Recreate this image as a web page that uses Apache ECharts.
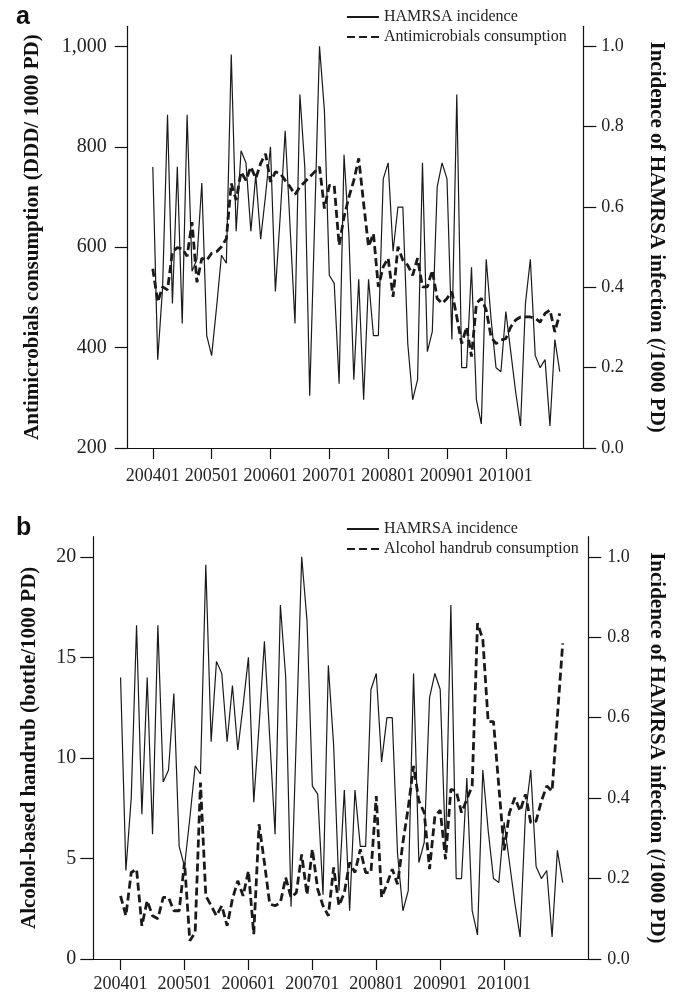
<!DOCTYPE html>
<html>
<head>
<meta charset="utf-8">
<script src="https://cdn.jsdelivr.net/npm/echarts@6/dist/echarts.min.js"></script>
<style>html,body{margin:0;padding:0;background:#fff;}#c{width:679px;height:1002px;}</style>
</head>
<body>
<div id="c"></div>
<script>
// Monthly categories 200401..201012
const months = [];
for (let y = 2004; y <= 2010; y++) for (let m = 1; m <= 12; m++) months.push('' + y + (m < 10 ? '0' : '') + m);
const tickLabels = ['200401','200501','200601','200701','200801','200901','201001'];
const leftTicksA = [200, 400, 600, 800, 1000];
const leftTicksB = [0, 5, 10, 15, 20];
const rightTicks = [0, 0.2, 0.4, 0.6, 0.8, 1.0];

// HAMRSA incidence (/1000 PD)
const hamrsa = [
  0.70,0.22,0.40,0.83,0.36,0.70,0.31,0.83,0.44,0.47,0.66,0.28,
  0.23,0.35,0.48,0.46,0.98,0.54,0.74,0.71,0.54,0.68,0.52,0.63,
  0.75,0.39,0.58,0.79,0.55,0.31,0.88,0.70,0.13,0.56,1.00,0.84,
  0.43,0.41,0.16,0.73,0.53,0.17,0.42,0.12,0.42,0.28,0.28,0.67,
  0.71,0.49,0.60,0.60,0.26,0.12,0.17,0.71,0.24,0.29,0.65,0.71,
  0.67,0.27,0.88,0.20,0.20,0.45,0.12,0.06,0.47,0.32,0.20,0.19,
  0.34,0.24,0.14,0.055,0.36,0.47,0.23,0.20,0.22,0.055,0.27,0.19
];
// Antimicrobials consumption (DDD/1000 PD)
const antimicrobials = [
  557,491,521,515,591,599,597,582,650,530,578,574,
  588,591,601,617,727,694,750,733,760,737,767,786,
  730,750,747,733,720,705,720,730,740,750,760,677,
  723,723,604,660,700,733,777,687,601,627,521,561,
  578,501,601,574,564,544,578,521,521,554,498,488,
  498,511,461,408,441,382,488,498,475,421,408,415,
  418,441,455,461,461,461,458,451,468,475,431,468
];
// Alcohol-based handrub consumption (bottle/1000 PD)
const alcohol = [
  3.14,2.15,4.30,4.47,1.65,2.90,2.15,2.00,3.06,3.06,2.40,2.40,
  4.80,0.91,1.32,8.77,3.14,2.65,2.15,2.65,1.65,2.98,3.89,3.14,
  4.38,1.24,6.70,4.80,2.73,2.65,2.80,4.05,3.06,3.30,5.20,3.20,
  5.46,3.47,2.65,2.15,4.55,2.65,3.30,4.80,4.30,5.46,4.30,4.30,
  8.10,3.06,3.72,4.47,3.72,5.79,7.53,9.60,7.86,7.28,4.47,7.10,
  7.40,4.96,8.44,8.35,7.28,7.94,8.60,16.7,15.9,11.8,11.8,8.60,
  5.40,7.28,8.02,7.36,8.19,6.78,6.86,7.86,8.60,8.35,12.07,15.7
];

const pair = arr => arr.map((v, i) => [i, v]);
const tickPos = tickLabels.map(t => months.indexOf(t));

const FONT = 'Liberation Serif';
const axisCol = '#111';
const lineCol = '#1a1a1a';

function xAxis(gridIndex, margin) {
  return {
    type: 'value', gridIndex, min: -5.12, max: 87.8,
    axisLine: { show: true, onZero: false, lineStyle: { color: axisCol, width: 1.2 } },
    axisTick: { show: true, length: 11, customValues: tickPos, lineStyle: { color: axisCol, width: 1.2 } },
    axisLabel: { customValues: tickPos, margin, color: '#222', fontFamily: FONT, fontSize: 18,
      formatter: v => months[Math.round(v)] },
    splitLine: { show: false }
  };
}
function yAxis(gridIndex, pos, min, max, ticks, fmt, name, nameGap, nameRotate, margin, labelSize) {
  return {
    type: 'value', gridIndex, position: pos, min, max,
    name, nameLocation: 'middle', nameGap, nameRotate,
    nameTextStyle: { fontFamily: FONT, fontWeight: 'bold', fontSize: 21, color: '#111' },
    axisLine: { show: true, onZero: false, lineStyle: { color: axisCol, width: 1.2 } },
    axisTick: { show: true, length: 13, customValues: ticks, lineStyle: { color: axisCol, width: 1.2 } },
    axisLabel: { customValues: ticks, margin, color: '#222', fontFamily: FONT, fontSize: labelSize, formatter: fmt },
    splitLine: { show: false }
  };
}
const fmtA = v => v >= 1000 ? (v / 1000) + ',000' : String(v);
const fmtR = v => v.toFixed(1);
const fmtB = v => String(v);

const solid = { color: lineCol, width: 1.2 };
const dashed = { color: lineCol, width: 2.8, type: [8, 4] };

const legendBase = {
  orient: 'vertical', left: 341, itemWidth: 32, itemHeight: 16, itemGap: 4,
  itemStyle: { opacity: 0 },
  textStyle: { fontFamily: FONT, fontSize: 16, color: '#222' }, selectedMode: false
};

const option = {
  animation: false,
  backgroundColor: '#fff',
  grid: [
    { left: 127.7, top: 26.3, width: 455.6, height: 421.7 },
    { left: 93.3, top: 536.7, width: 495, height: 422.3 }
  ],
  legend: [
    Object.assign({}, legendBase, { top: 4, data: ['HAMRSA incidence', 'Antimicrobials consumption'] }),
    Object.assign({}, legendBase, { top: 516, data: ['HAMRSA incidence ', 'Alcohol handrub consumption'] })
  ],
  xAxis: [xAxis(0, 19), xAxis(1, 16)],
  yAxis: [
    yAxis(0, 'left', 200, 1040, leftTicksA, fmtA, 'Antimicrobials consumption (DDD/ 1000 PD)', 85, 90, 21, 20),
    yAxis(0, 'right', 0, 1.05, rightTicks, fmtR, 'Incidence of HAMRSA infection (/1000 PD)', 63, -90, 18, 18),
    yAxis(1, 'left', 0, 21, leftTicksB, fmtB, 'Alcohol-based handrub (bottle/1000 PD)', 53, 90, 17, 20),
    yAxis(1, 'right', 0, 1.05, rightTicks, fmtR, 'Incidence of HAMRSA infection (/1000 PD)', 58, -90, 19, 18)
  ],
  graphic: [
    { type: 'text', left: 16, top: 5, style: { text: 'a', fontFamily: 'Liberation Sans', fontWeight: 'bold', fontSize: 25, fill: '#111' } },
    { type: 'text', left: 16, top: 516, style: { text: 'b', fontFamily: 'Liberation Sans', fontWeight: 'bold', fontSize: 25, fill: '#111' } }
  ],
  series: [
    { name: 'HAMRSA incidence', type: 'line', xAxisIndex: 0, yAxisIndex: 1, data: pair(hamrsa), symbol: 'none', lineStyle: solid, itemStyle: { color: lineCol }, z: 2 },
    { name: 'Antimicrobials consumption', type: 'line', xAxisIndex: 0, yAxisIndex: 0, data: pair(antimicrobials), symbol: 'none', lineStyle: dashed, itemStyle: { color: lineCol }, z: 3 },
    { name: 'HAMRSA incidence ', type: 'line', xAxisIndex: 1, yAxisIndex: 3, data: pair(hamrsa), symbol: 'none', lineStyle: solid, itemStyle: { color: lineCol }, z: 2 },
    { name: 'Alcohol handrub consumption', type: 'line', xAxisIndex: 1, yAxisIndex: 2, data: pair(alcohol), symbol: 'none', lineStyle: dashed, itemStyle: { color: lineCol }, z: 3 }
  ]
};
const chart = echarts.init(document.getElementById('c'), null, { renderer: 'canvas' });
chart.setOption(option);
</script>
</body>
</html>
